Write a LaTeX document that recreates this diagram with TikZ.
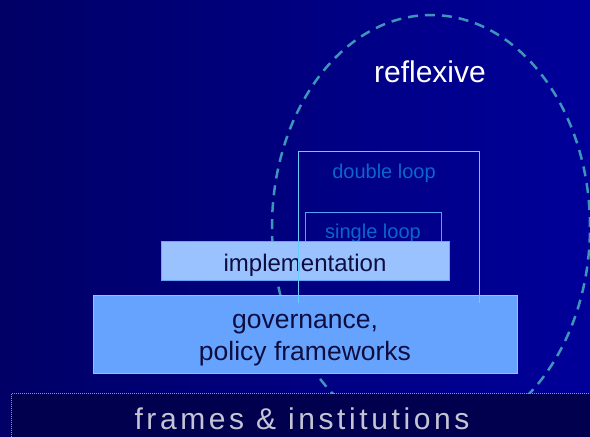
\documentclass[tikz,border=0pt]{standalone}
\usepackage{fontspec}
\setmainfont{Liberation Sans}
\usepackage{xcolor}
\usetikzlibrary{positioning}

\definecolor{bgleft}{HTML}{000066}
\definecolor{bgright}{HTML}{00009A}
\definecolor{bandfill}{HTML}{00004F}
\definecolor{bandline}{HTML}{9090C4}
\definecolor{bandtext}{HTML}{C4C4D4}
\definecolor{govfill}{HTML}{66A3FF}
\definecolor{implfill}{HTML}{99C2FF}
\definecolor{loopline}{HTML}{66CCFF}
\definecolor{looptext}{HTML}{0A66CC}
\definecolor{reflexline}{HTML}{3D95BA}
\definecolor{boxtext}{HTML}{0D0D40}

\begin{document}
\begin{tikzpicture}[
    x=1pt, y=-1pt,
    node distance=14pt,
    govbox/.style={rectangle, draw=govfill!70!white, fill=govfill, thick, minimum width=424pt, minimum height=78pt, inner sep=0pt, align=center, text=boxtext, font=\fontsize{26.5}{32}\selectfont},
    implbox/.style={rectangle, draw=govfill, fill=implfill, thick, minimum width=288pt, minimum height=39pt, inner sep=0pt, text height=27.5pt, text depth=5pt, text=boxtext, font=\fontsize{24}{28}\selectfont},
    loopbox/.style={rectangle, draw=loopline!80!blue, thick, minimum width=136pt, minimum height=38pt, inner sep=0pt, text height=18.6pt, text depth=4.2pt, text=looptext, font=\fontsize{20}{24}\selectfont},
    looplabel/.style={text=looptext, inner sep=0pt, font=\fontsize{20}{24}\selectfont},
    reflex/.style={draw=reflexline, line width=2.5pt, dash pattern=on 10pt off 7pt},
    band/.style={rectangle, fill=bandfill, minimum width=580pt, minimum height=43pt, inner sep=0pt, text height=28pt, text depth=0pt, text=bandtext, font=\fontsize{30}{34}\selectfont\addfontfeature{LetterSpace=12}}
]
    \useasboundingbox (0,0) rectangle (590,437);
    \fill[left color=bgleft, right color=bgright] (0,0) rectangle (590,437);

    % Reflexive
    \draw[reflex] (431,227) ellipse [x radius=159pt, y radius=212pt];
    \node[text=white, inner sep=0pt, font=\fontsize{30}{34}\selectfont] (reflexive) at (430,72) {reflexive};

    % Loops
    \node[loopbox] (single) at (373,231) {single loop};

    % Levels
    \node[govbox] (gov) at (305,334) {\rule{0pt}{26pt}governance,\\policy frameworks};
    \node[implbox, above=of gov] (impl) {implementation};

    \coordinate (dbl-sw) at (298,303);
    \coordinate (dbl-ne) at (479,151);
    \draw[loopline, thick] (dbl-sw) |- (dbl-ne) -- (dbl-ne |- dbl-sw);
    \node[looplabel] (double) at (384,173) {double loop};

    % Base
    \node[band] (frames) at (302,415.5) {frames \& institutions};
    \draw[bandline, line width=1pt, dash pattern=on 1pt off 1pt] (frames.south west) -- (frames.north west) -- (frames.north east);
\end{tikzpicture}
\end{document}
